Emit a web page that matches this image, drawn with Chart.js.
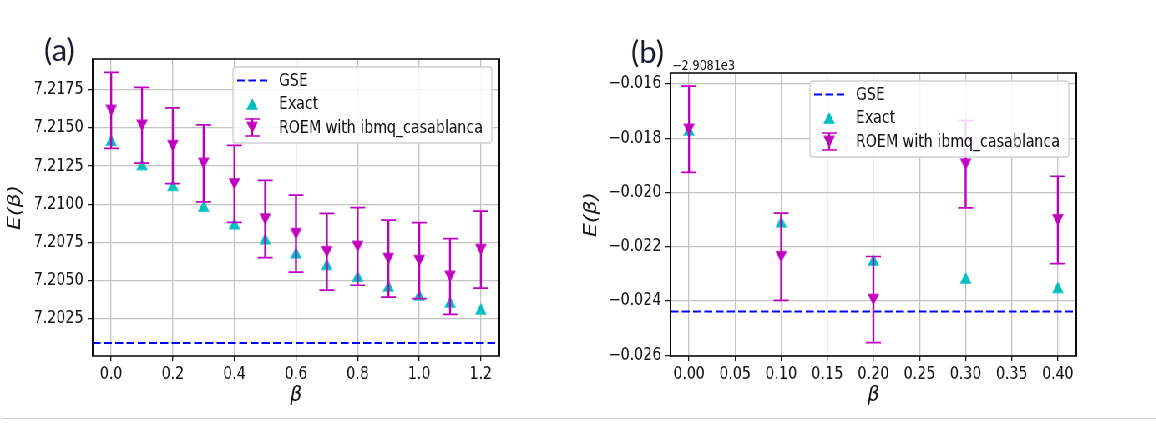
<!DOCTYPE html>
<html>
<head>
<meta charset="utf-8">
<script src="https://cdn.jsdelivr.net/npm/chart.js@4.4.0/dist/chart.umd.min.js"></script>
<style>
  html, body { margin: 0; padding: 0; background: #fff; }
  body { width: 1156px; height: 424px; overflow: hidden; position: relative; }
  /* the figure is laid out on a wider stage and narrowed horizontally */
  #stage { position: absolute; left: 0; top: 0; width: 1385px; height: 424px;
           transform: scaleX(0.835); transform-origin: 0 0; }
  #stage canvas { position: absolute; top: 0; }
  #ca { left: 0; }
  #cb { left: 695px; }
  .tag { position: absolute; font-family: Lato, "Open Sans", sans-serif; font-size: 31px;
         line-height: 31px; color: #1a1a30; }
  #rule { position: absolute; left: 2px; right: 0; top: 418px; height: 1px; background: #cfcfcf; }
</style>
</head>
<body>
<div id="stage">
  <canvas id="ca" width="695" height="424"></canvas>
  <canvas id="cb" width="690" height="424"></canvas>
</div>
<div class="tag" style="left:44px;top:34px">(a)</div>
<div class="tag" style="left:631px;top:36px">(b)</div>
<div id="rule"></div>

<script>
// ---------- panel (a) ----------
const betaA = [0.0, 0.1, 0.2, 0.3, 0.4, 0.5, 0.6, 0.7, 0.8, 0.9, 1.0, 1.1, 1.2];
const exactA = [7.21421, 7.21261, 7.21124, 7.20988, 7.20872, 7.20773, 7.20681,
                7.20604, 7.20527, 7.20463, 7.20404, 7.20358, 7.20312];
const roemA = [7.21616, 7.21518, 7.21384, 7.21268, 7.21133, 7.20902, 7.20806,
               7.20687, 7.20722, 7.20642, 7.20629, 7.20525, 7.20701];
const roemErrA = [0.00250, 0.00249, 0.00249, 0.00253, 0.00253, 0.00254, 0.00253,
                  0.00252, 0.00255, 0.00253, 0.00250, 0.00249, 0.00253];
const gseA = 7.20088;
const xTicksA = [0.0, 0.2, 0.4, 0.6, 0.8, 1.0, 1.2];
const xLabelsA = ['0.0', '0.2', '0.4', '0.6', '0.8', '1.0', '1.2'];
const yTicksA = [7.2025, 7.2050, 7.2075, 7.2100, 7.2125, 7.2150, 7.2175];
const yLabelsA = ['7.2025', '7.2050', '7.2075', '7.2100', '7.2125', '7.2150', '7.2175'];

// ---------- panel (b) : values relative to the axis offset ----------
const offsetB = -2908.1;
const offsetLabelB = '\u22122.9081e3';
const betaB = [0.0, 0.1, 0.2, 0.3, 0.4];
const exactB = [-0.01769, -0.02108, -0.02249, -0.02315, -0.02350];
const roemB = [-0.01767, -0.02237, -0.02395, -0.01896, -0.02101];
const roemErrB = [0.00159, 0.00161, 0.00159, 0.00161, 0.00161];
const gseB = -0.02439;
const xTicksB = [0.00, 0.05, 0.10, 0.15, 0.20, 0.25, 0.30, 0.35, 0.40];
const xLabelsB = ['0.00', '0.05', '0.10', '0.15', '0.20', '0.25', '0.30', '0.35', '0.40'];
const yTicksB = [-0.026, -0.024, -0.022, -0.020, -0.018, -0.016];
const yLabelsB = ['\u22120.026', '\u22120.024', '\u22120.022', '\u22120.020', '\u22120.018', '\u22120.016'];

const seriesNames = ['GSE', 'Exact', 'ROEM with ibmq_casablanca'];

const CYAN = '#00bfbf', MAGENTA = '#bf00bf', BLUE = '#0000ff';
const FONT = '"DejaVu Sans", Verdana, sans-serif';
const TEXT = '#141414';

// triangle marker bitmaps (centred on the point)
function triangle(color, up, w, h) {
  const c = document.createElement('canvas');
  c.width = Math.ceil(w) + 2; c.height = Math.ceil(h) + 2;
  const g = c.getContext('2d');
  const cx = c.width / 2, cy = c.height / 2;
  g.fillStyle = color;
  g.beginPath();
  if (up) {
    g.moveTo(cx, cy - h / 2); g.lineTo(cx + w / 2, cy + h / 2); g.lineTo(cx - w / 2, cy + h / 2);
  } else {
    g.moveTo(cx, cy + h / 2); g.lineTo(cx + w / 2, cy - h / 2); g.lineTo(cx - w / 2, cy - h / 2);
  }
  g.closePath(); g.fill();
  return c;
}
const upMark = triangle(CYAN, true, 14, 11.5);
const downMark = triangle(MAGENTA, false, 14, 11.5);

const CAP = 9;

// vertical error bars with caps, drawn right under the marker layer of their series
const errorBars = {
  id: 'errorBars',
  beforeDatasetDraw(chart, args) {
    const ds = chart.data.datasets[args.index];
    if (!ds.errors) return;
    const xs = chart.scales.x, ys = chart.scales.y, ctx = chart.ctx;
    ctx.save();
    ctx.strokeStyle = MAGENTA;
    ds.data.forEach((p, i) => {
      const px = xs.getPixelForValue(p.x);
      const top = ys.getPixelForValue(p.y + ds.errors[i]);
      const bot = ys.getPixelForValue(p.y - ds.errors[i]);
      ctx.lineWidth = 2.4;
      ctx.beginPath(); ctx.moveTo(px, top); ctx.lineTo(px, bot); ctx.stroke();
      ctx.lineWidth = 1.7;
      ctx.beginPath();
      ctx.moveTo(px - CAP, top); ctx.lineTo(px + CAP, top);
      ctx.moveTo(px - CAP, bot); ctx.lineTo(px + CAP, bot);
      ctx.stroke();
    });
    ctx.restore();
  }
};

// axes frame on all four sides
const frame = {
  id: 'frame',
  afterDatasetsDraw(chart) {
    const {left, right, top, bottom} = chart.chartArea, ctx = chart.ctx;
    ctx.save();
    ctx.strokeStyle = '#000';
    ctx.lineWidth = 1.6;
    ctx.beginPath();
    ctx.moveTo(left - 1, top); ctx.lineTo(right + 1, top);
    ctx.moveTo(left - 1, bottom); ctx.lineTo(right + 1, bottom);
    ctx.stroke();
    ctx.lineWidth = 1.9;
    ctx.beginPath();
    ctx.moveTo(left, top); ctx.lineTo(left, bottom);
    ctx.moveTo(right, top); ctx.lineTo(right, bottom);
    ctx.stroke();
    ctx.restore();
  }
};

// legend box in the upper-right corner of the plot area
const legendBox = {
  id: 'legendBox',
  afterDraw(chart) {
    const ctx = chart.ctx, area = chart.chartArea;
    const w = 310, h = 76;
    const x0 = area.right - 9 - w, y0 = area.top + 8;
    ctx.save();
    ctx.fillStyle = 'rgba(255,255,255,0.85)';
    ctx.strokeStyle = '#cfcfcf';
    ctx.lineWidth = 1.3;
    ctx.beginPath();
    ctx.roundRect(x0, y0, w, h, 3);
    ctx.fill(); ctx.stroke();
    const rows = [y0 + 13.5, y0 + 37, y0 + 60.5];
    const hx0 = x0 + 5, hx1 = x0 + 41, hc = (hx0 + hx1) / 2;
    // GSE
    ctx.strokeStyle = BLUE; ctx.lineWidth = 2; ctx.setLineDash([9.5, 4]);
    ctx.beginPath(); ctx.moveTo(hx0, rows[0]); ctx.lineTo(hx1, rows[0]); ctx.stroke();
    ctx.setLineDash([]);
    // Exact
    ctx.drawImage(upMark, hc - upMark.width / 2, rows[1] - upMark.height / 2);
    // ROEM
    ctx.strokeStyle = MAGENTA;
    ctx.lineWidth = 2.4;
    ctx.beginPath(); ctx.moveTo(hc, rows[2] - 8.5); ctx.lineTo(hc, rows[2] + 8.5); ctx.stroke();
    ctx.lineWidth = 1.7;
    ctx.beginPath();
    ctx.moveTo(hc - CAP, rows[2] - 8.5); ctx.lineTo(hc + CAP, rows[2] - 8.5);
    ctx.moveTo(hc - CAP, rows[2] + 8.5); ctx.lineTo(hc + CAP, rows[2] + 8.5);
    ctx.stroke();
    ctx.drawImage(downMark, hc - downMark.width / 2, rows[2] - downMark.height / 2);
    // labels
    ctx.fillStyle = TEXT;
    ctx.font = '17px ' + FONT;
    ctx.textBaseline = 'middle';
    ctx.textAlign = 'left';
    seriesNames.forEach((t, i) => ctx.fillText(t, x0 + 55, rows[i] + 1));
    ctx.restore();
  }
};

// axis offset written above the top-left corner of the plot area
const offsetText = {
  id: 'offsetText',
  afterDraw(chart, args, opts) {
    if (!opts || !opts.text) return;
    const ctx = chart.ctx, area = chart.chartArea;
    ctx.save();
    ctx.fillStyle = TEXT;
    ctx.font = '13.5px ' + FONT;
    ctx.textBaseline = 'alphabetic';
    ctx.textAlign = 'left';
    ctx.fillText(opts.text, area.left + 2, area.top - 3);
    ctx.restore();
  }
};

function makeChart(id, cfg) {
  const tickFont = {family: FONT, size: 17};
  const titleFont = {family: FONT, size: 22, style: 'italic'};
  const grid = {color: '#c4c4c4', lineWidth: 1.3, tickColor: '#1a1a1a', tickWidth: 1.3};
  return new Chart(document.getElementById(id), {
    type: 'scatter',
    data: {
      datasets: [
        {
          label: seriesNames[0],
          data: [{x: cfg.xMin, y: cfg.gse}, {x: cfg.xMax, y: cfg.gse}],
          showLine: true, borderColor: BLUE, borderWidth: 2, borderDash: [9.5, 4],
          pointRadius: 0, order: 3
        },
        {
          label: seriesNames[1],
          data: cfg.beta.map((b, i) => ({x: b, y: cfg.exact[i]})),
          pointStyle: upMark, pointRadius: 6, order: 2
        },
        {
          label: seriesNames[2],
          data: cfg.beta.map((b, i) => ({x: b, y: cfg.roem[i]})),
          errors: cfg.err,
          pointStyle: downMark, pointRadius: 6, order: 1
        }
      ]
    },
    options: {
      responsive: false, animation: false, devicePixelRatio: 1,
      layout: {padding: {left: 0, top: cfg.padTop, right: cfg.padRight, bottom: 0}},
      plugins: {
        legend: {display: false}, tooltip: {enabled: false},
        offsetText: {text: cfg.offsetLabel || ''}
      },
      scales: {
        x: {
          type: 'linear', min: cfg.xMin, max: cfg.xMax,
          afterFit(s) { s.height = cfg.xAxisH; },
          afterBuildTicks(s) { s.ticks = cfg.xTicks.map(v => ({value: v})); },
          ticks: {callback: (v, i) => cfg.xLabels[i], font: tickFont, color: TEXT,
                  padding: 3, maxRotation: 0, autoSkip: false},
          grid: Object.assign({tickLength: 5}, grid),
          border: {display: false},
          title: {display: true, text: 'β', font: titleFont, color: TEXT,
                  padding: {top: 0, bottom: 16}}
        },
        y: {
          type: 'linear', min: cfg.yMin, max: cfg.yMax,
          afterFit(s) { s.width = cfg.yAxisW; },
          afterBuildTicks(s) { s.ticks = cfg.yTicks.map(v => ({value: v})); },
          ticks: {callback: (v, i) => cfg.yLabels[i], font: tickFont, color: TEXT,
                  padding: 5, autoSkip: false},
          grid: Object.assign({tickLength: 6}, grid),
          border: {display: false},
          title: {display: true, text: 'E(β)', font: titleFont, color: TEXT,
                  padding: {top: cfg.yTitlePad, bottom: 0}}
        }
      }
    },
    plugins: [errorBars, frame, legendBox, offsetText]
  });
}

makeChart('ca', {
  beta: betaA, exact: exactA, roem: roemA, err: roemErrA, gse: gseA,
  xMin: -0.06, xMax: 1.26, yMin: 7.20002, yMax: 7.21954,
  xTicks: xTicksA, xLabels: xLabelsA, yTicks: yTicksA, yLabels: yLabelsA,
  padTop: 59, padRight: 97, xAxisH: 68, yAxisW: 111, yTitlePad: 5
});

makeChart('cb', {
  beta: betaB, exact: exactB, roem: roemB, err: roemErrB, gse: gseB,
  xMin: -0.02, xMax: 0.42, yMin: -0.02603, yMax: -0.015593,
  xTicks: xTicksB, xLabels: xLabelsB, yTicks: yTicksB, yLabels: yLabelsB,
  padTop: 73, padRight: 96, xAxisH: 68, yAxisW: 108, yTitlePad: 0,
  offsetLabel: offsetLabelB
});
</script>
</body>
</html>
